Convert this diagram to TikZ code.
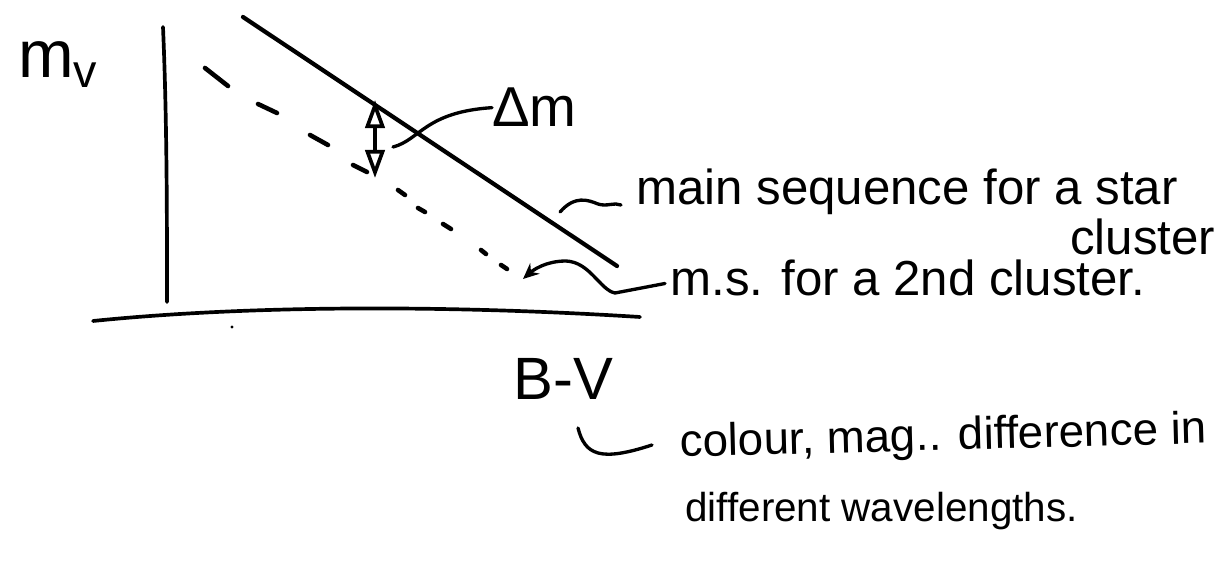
\documentclass[tikz,border=0pt]{standalone}
\usepackage{fontspec}
\setmainfont{Liberation Sans}
\usetikzlibrary{arrows.meta,positioning}
\tikzset{
  pen/.style      = {line width=2.4pt, line cap=round},
  axispen/.style  = {line width=2.1pt, line cap=round},
  notepen/.style  = {line width=1.9pt, line cap=round},
  dashmark/.style = {line width=2.6pt, line cap=round},
  note/.style     = {inner sep=0pt, anchor=base west, font=\fontsize{28}{32}\selectfont},
}

\begin{document}
\begin{tikzpicture}[x=0.02cm, y=-0.02cm]
  \useasboundingbox (0,0) rectangle (1232,563);

  % ---- axes ---------------------------------------------------------------
  \draw[axispen] (163,27) .. controls (167,120) and (167,220) .. (167,302);
  \draw[axispen] (93,321) .. controls (250,305) and (450,305) .. (640,317);
  \fill (232,327) circle (1.6);
  \node[inner sep=0pt, anchor=base west, font=\fontsize{38}{40}\selectfont]
    (mv) at (18,78) {m\textsubscript{v}};
  \node[inner sep=0pt, anchor=base west, font=\fontsize{34}{38}\selectfont]
    (bv) at (513,400) {B-V};

  % ---- main sequence of the first cluster --------------------------------
  \draw[pen] (243,17) -- (617,266);

  % ---- second cluster: dashes shrink to dots ------------------------------
  \foreach \xa/\ya/\xb/\yb in {205/68/228/86, 258/104/277/113, 310/135/328/145,
                               353/165/367/172, 398/190/405/195, 418/208/425/212,
                               443/224/451/229, 481/250/486/254, 501/265/507/269}
  { \draw[dashmark] (\xa,\ya) -- (\xb,\yb); }

  % ---- Delta m ------------------------------------------------------------
  \coordinate (dmlow) at (375,178);
  \coordinate (dmhigh) at (375,100);
  \draw[axispen, {Triangle[open,length=16pt,width=11pt]}-{Triangle[open,length=16pt,width=11pt]}]
    (dmlow) -- (dmhigh);
  \node[inner sep=0pt, anchor=base west, font=\fontsize{32}{36}\selectfont]
    (dm) at (492,127) {Δm};
  \draw[notepen] (393,147) .. controls (420,140) and (425,112) .. (dm.west);

  % ---- annotations --------------------------------------------------------
  \node[note] (ms1) at (636,205) {main sequence for a star};
  \node[note] (ms1b) at (1070,255) {cluster};
  \node[note] (ms2) at (670,296) {m.s. for a 2nd cluster.};
  \node[note, font=\fontsize{26}{30}\selectfont, rotate=1.5] (col1) at (680,457)
    {colour, mag.. difference in};
  \node[note, font=\fontsize{23}{27}\selectfont] (col2) at (685,522)
    {different wavelengths.};

  \coordinate (mstail) at (560,212);
  \draw[notepen] (mstail) .. controls (575,195) and (588,200) .. (598,204)
                 .. controls (607,207) and (614,202) .. ([xshift=-0.3cm]ms1.base west);
  \coordinate (ms2tip) at (523,279);
  \draw[notepen, -{Stealth[length=9pt,width=8pt]}]
    ([xshift=-0.1cm, yshift=0.25cm]ms2.base west) -- (615,293)
      .. controls (600,290) and (590,262) .. (566,261)
      .. controls (545,261) and (532,271) .. (ms2tip);
  \coordinate (bvtail) at (578,428);
  \draw[notepen] (bvtail) .. controls (585,455) and (600,462) .. (652,445);
\end{tikzpicture}
\end{document}
